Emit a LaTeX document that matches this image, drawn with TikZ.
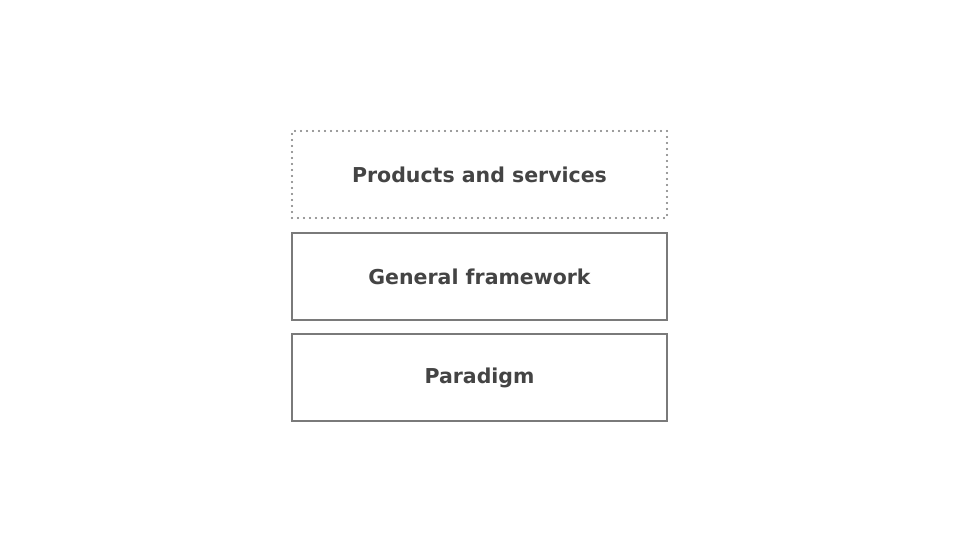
\documentclass[tikz,border=0pt]{standalone}
\usepackage{fontspec}
\setmainfont{DejaVu Sans}
\definecolor{boxline}{HTML}{7A7A7A}
\definecolor{txt}{HTML}{444444}
\tikzset{
  layer/.style={draw=boxline, line width=1.6pt, minimum width=375pt, minimum height=87pt, inner sep=0pt,
    font=\fontsize{20.5}{24}\selectfont\bfseries, text=txt},
  dotlayer/.style={layer, draw=boxline, line width=2.3pt, dash pattern=on 0pt off 6pt, line cap=round}
}
\begin{document}
\begin{tikzpicture}[x=1pt,y=1pt]
\useasboundingbox (0,0) rectangle (960,540);
\node[dotlayer] (prod) at (479.5,365.5) {Products and services};
\node[layer] (frame) at (479.5,263.5) {General framework};
\node[layer] (para) at (479.5,162.5) {Paradigm};
\end{tikzpicture}
\end{document}
